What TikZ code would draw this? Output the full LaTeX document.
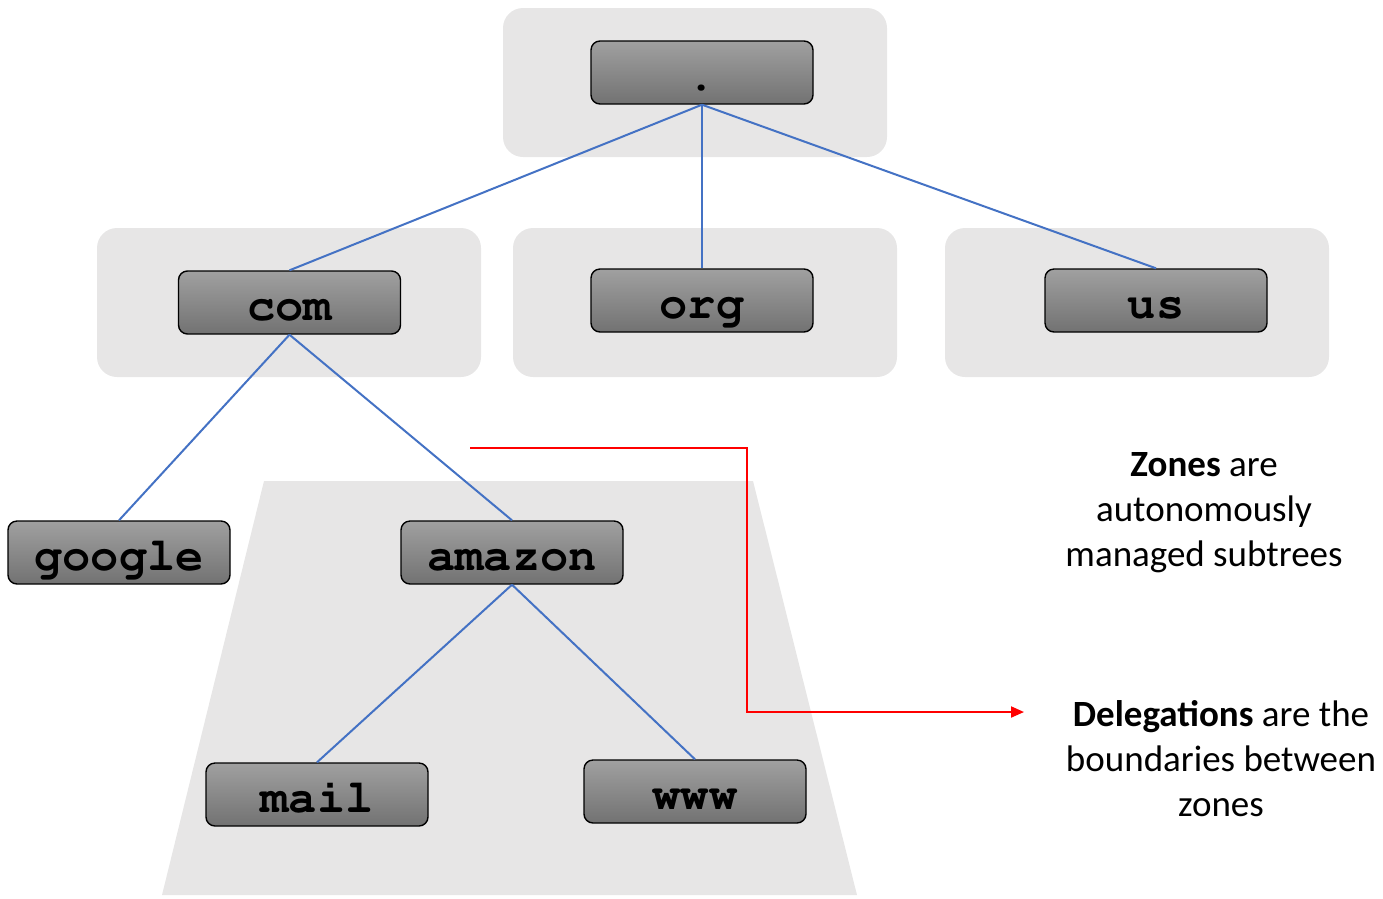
\documentclass[tikz,border=0pt]{standalone}
\usepackage[T1]{fontenc}
\usepackage{fontspec}
\setmainfont{Carlito}
\setmonofont{Liberation Mono}
\usetikzlibrary{arrows.meta}
\newcommand\courbold{\fontencoding{T1}\fontfamily{pcr}\fontseries{b}\fontshape{n}\selectfont}
\definecolor{zonegray}{RGB}{231,230,230}
\definecolor{nodetop}{RGB}{160,160,160}
\definecolor{nodebot}{RGB}{114,114,114}
\definecolor{linkblue}{RGB}{68,114,196}
\definecolor{delred}{RGB}{255,0,0}
\tikzset{
  zonebox/.style={fill=zonegray, draw=none, rounded corners=20pt},
  dnsnode/.style={draw=black, line width=1.4pt, rounded corners=9pt,
    top color=nodetop, bottom color=nodebot,
    minimum width=222pt, minimum height=63pt, inner sep=0pt,
    font=\courbold\fontsize{47}{47}\selectfont,
    text height=36pt, text depth=0pt},
  link/.style={draw=linkblue, line width=2pt},
  note/.style={align=center, font=\fontsize{37}{45}\selectfont},
}
\begin{document}
\begin{tikzpicture}[x=1pt,y=-1pt]
\useasboundingbox (0,0) rectangle (1383,898);
% zones
\fill[zonebox] (503,8) rectangle (887,157);
\fill[zonebox] (97,228) rectangle (481,377);
\fill[zonebox] (513,228) rectangle (897,377);
\fill[zonebox] (945,228) rectangle (1329,377);
\fill[zonegray] (264,481) -- (753,481) -- (857,895) -- (162,895) -- cycle;
% nodes
\node[dnsnode] (root) at (702,72.5) {.};
\node[dnsnode] (com) at (289.5,302.5) {com};
\node[dnsnode] (org) at (702,300.5) {org};
\node[dnsnode] (us) at (1156,300.5) {us};
\node[dnsnode] (google) at (119,552.5) {google};
\node[dnsnode] (amazon) at (512,552.5) {amazon};
\node[dnsnode] (mail) at (317,794.5) {mail};
\node[dnsnode] (www) at (695,791.5) {www};
% links
\draw[link] (root.south) -- (com.north);
\draw[link] (root.south) -- (org.north);
\draw[link] (root.south) -- (us.north);
\draw[link] (com.south) -- (google.north);
\draw[link] (com.south) -- (amazon.north);
\draw[link] (amazon.south) -- (mail.north);
\draw[link] (amazon.south) -- (www.north);
% notes
\node[note] (zones) at (1204,513) {\textbf{Zones} are\\autonomously\\managed subtrees};
\node[note] (deleg) at (1221,759) {\textbf{Delegations} are the\\boundaries between\\zones};
% delegation arrow
\coordinate (rstart) at (470,448);
\coordinate (rend) at (1024,712);
\draw[delred, line width=2pt, -{Triangle[length=13pt,width=11pt]}]
  (rstart) -- (747,448) -- (747,712) -- (rend);
\end{tikzpicture}
\end{document}
